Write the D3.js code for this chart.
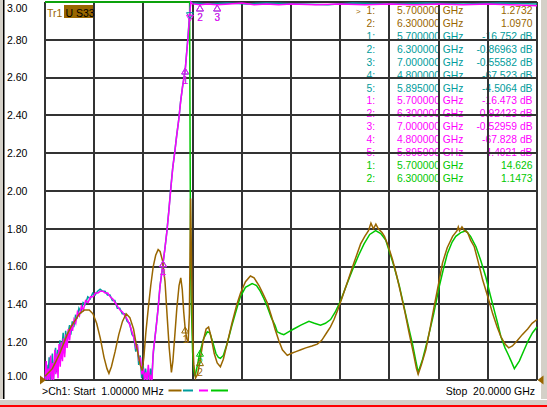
<!DOCTYPE html>
<html>
<head>
<meta charset="utf-8">
<title>VNA trace</title>
<script src="https://cdnjs.cloudflare.com/ajax/libs/d3/7.8.5/d3.min.js"></script>
<style>
  body { margin: 0; background: #fff; }
  svg text { font-family: "Liberation Sans", Arial, sans-serif; font-size: 10.3px; white-space: pre; }
</style>
</head>
<body>
<script>
var width = 547,
    height = 407;

// scale and labels
var yTicks = [1.0, 1.2, 1.4, 1.6, 1.8, 2.0, 2.2, 2.4, 2.6, 2.8, 3.0];
var startGHz = 0.001, stopGHz = 20;
var startLabel = ">Ch1: Start  1.00000 MHz";
var stopLabel = "Stop  20.0000 GHz";

// traces: [frequency GHz, displayed value]
var brown = [[0,1.02],[0.15,1.04],[0.3,1.06],[0.45,1.10],[0.6,1.14],[0.75,1.19],[0.9,1.24],[1.05,1.28],[1.2,1.31],
  [1.4,1.35],[1.6,1.37],[1.8,1.37],[1.95,1.35],[2.1,1.30],[2.25,1.22],[2.4,1.12],[2.52,1.06],[2.6,1.035],[2.7,1.07],
  [2.85,1.15],[3.0,1.24],[3.15,1.31],[3.3,1.35],[3.45,1.33],[3.6,1.27],[3.75,1.16],[3.87,1.08],[3.95,1.05],[4.02,1.12],
  [4.1,1.25],[4.2,1.38],[4.3,1.50],[4.4,1.60],[4.5,1.66],[4.6,1.69],[4.68,1.68],[4.78,1.63],[4.88,1.52],[4.96,1.35],
  [5.05,1.17],[5.14,1.04],[5.2,1.10],[5.28,1.24],[5.36,1.38],[5.45,1.50],[5.52,1.54],[5.58,1.48],[5.64,1.36],[5.70,1.27],
  [5.76,1.22],[5.82,1.20],[5.87,1.35],[5.92,1.96],[5.96,1.60],[6.0,1.25],[6.05,1.08],[6.12,1.01],[6.2,1.03],[6.3,1.097],
  [6.42,1.20],[6.55,1.27],[6.65,1.28],[6.75,1.23],[6.88,1.14],[7.0,1.09],[7.13,1.07],[7.25,1.11],[7.4,1.19],[7.6,1.30],
  [7.8,1.40],[7.95,1.46],[8.15,1.52],[8.35,1.55],[8.5,1.54],[8.7,1.50],[8.85,1.46],[9.03,1.41],[9.2,1.34],[9.35,1.27],
  [9.5,1.21],[9.65,1.16],[9.85,1.13],[10.0,1.14],[10.2,1.15],[10.4,1.16],[10.6,1.17],[10.85,1.18],[11.07,1.19],[11.25,1.21],
  [11.45,1.25],[11.6,1.28],[11.75,1.32],[11.9,1.37],[12.09,1.44],[12.3,1.52],[12.56,1.62],[12.83,1.72],[13.0,1.76],
  [13.15,1.79],[13.25,1.83],[13.35,1.80],[13.45,1.825],[13.55,1.80],[13.7,1.78],[13.8,1.76],[13.95,1.71],[14.12,1.64],
  [14.3,1.55],[14.46,1.46],[14.63,1.36],[14.8,1.25],[14.98,1.14],[15.1,1.06],[15.17,1.03],[15.3,1.08],[15.48,1.16],
  [15.65,1.27],[15.82,1.39],[16.0,1.51],[16.16,1.62],[16.35,1.70],[16.57,1.76],[16.75,1.79],[16.8,1.81],[16.85,1.79],
  [16.95,1.81],[17.05,1.79],[17.18,1.78],[17.3,1.74],[17.45,1.705],[17.6,1.63],[17.79,1.53],[18.0,1.44],[18.2,1.35],
  [18.38,1.28],[18.53,1.23],[18.7,1.19],[18.85,1.17],[19.0,1.18],[19.21,1.21],[19.4,1.24],[19.62,1.27],[19.8,1.30],[20.0,1.32]];

var teal = [[0,1.02],[0.04,0.98],[0.08,1.08],[0.12,1.00],[0.17,1.12],[0.21,0.99],[0.26,1.05],[0.30,1.14],[0.34,1.00],
  [0.39,1.10],[0.43,1.17],[0.48,1.04],[0.52,1.16],[0.56,1.09],[0.61,1.21],[0.65,1.11],[0.70,1.19],[0.74,1.25],[0.79,1.14],
  [0.84,1.26],[0.89,1.19],[0.94,1.25],[1.00,1.29],[1.05,1.24],[1.11,1.31],[1.17,1.28],[1.24,1.34],[1.31,1.33],[1.38,1.38],
  [1.46,1.36],[1.55,1.41],[1.64,1.40],[1.74,1.44],[1.84,1.43],[1.94,1.46],[2.04,1.45],[2.14,1.47],[2.24,1.48],[2.34,1.47],
  [2.44,1.47],[2.54,1.45],[2.64,1.45],[2.74,1.42],[2.84,1.42],[2.94,1.38],[3.04,1.38],[3.14,1.35],[3.24,1.35],[3.34,1.31],
  [3.44,1.30],[3.54,1.24],[3.61,1.23],[3.69,1.15],[3.75,1.19],[3.81,1.08],[3.87,1.13],[3.93,1.01],[3.99,1.08],[4.04,0.98],
  [4.09,1.06],[4.14,0.98],[4.19,1.05],[4.24,0.98],[4.29,1.06],[4.34,1.00],[4.39,1.12],[4.44,1.19],[4.51,1.27],[4.59,1.37],
  [4.67,1.49],[4.74,1.56],[4.80,1.62],[4.87,1.69],[4.95,1.78],[5.03,1.89],[5.11,2.01],[5.19,2.12],[5.27,2.20],[5.35,2.29],
  [5.43,2.37],[5.51,2.47],[5.59,2.55],[5.70,2.64],[5.75,2.72],[5.81,2.81],[5.87,2.92],[5.92,3.02],[6.0,2.995],[6.6,2.99],
  [7.4,2.995],[8.2,2.99],[9.0,2.995],[10.5,2.99],[11.5,2.985],[12.5,2.995],[14.0,2.99],[15.5,2.995],[17.0,2.99],[18.5,2.995],[20.0,2.99]];

var magenta = [[0,1.00],[0.05,1.10],[0.09,0.98],[0.14,1.06],[0.18,0.98],[0.23,1.13],[0.27,1.00],[0.31,1.09],[0.35,0.98],
  [0.40,1.16],[0.44,1.03],[0.49,1.14],[0.53,1.01],[0.57,1.19],[0.62,1.07],[0.66,1.20],[0.71,1.10],[0.75,1.22],[0.80,1.12],
  [0.85,1.24],[0.90,1.17],[0.95,1.27],[1.00,1.21],[1.06,1.29],[1.12,1.26],[1.18,1.32],[1.25,1.30],[1.32,1.36],[1.40,1.34],
  [1.48,1.39],[1.56,1.37],[1.65,1.42],[1.75,1.41],[1.85,1.44],[1.95,1.44],[2.05,1.46],[2.15,1.46],[2.25,1.47],[2.35,1.47],
  [2.45,1.46],[2.55,1.46],[2.65,1.44],[2.75,1.43],[2.85,1.41],[2.95,1.39],[3.05,1.37],[3.15,1.36],[3.25,1.34],[3.35,1.32],
  [3.45,1.29],[3.55,1.25],[3.62,1.22],[3.70,1.17],[3.76,1.18],[3.82,1.10],[3.88,1.12],[3.94,1.03],[4.00,1.06],[4.05,0.98],
  [4.10,1.04],[4.15,0.97],[4.20,1.08],[4.25,0.97],[4.30,1.02],[4.35,0.99],[4.40,1.15],[4.45,1.20],[4.52,1.28],[4.60,1.38],
  [4.68,1.50],[4.75,1.57],[4.80,1.62],[4.88,1.70],[4.96,1.79],[5.04,1.90],[5.12,2.02],[5.20,2.13],[5.28,2.21],[5.36,2.30],
  [5.44,2.38],[5.52,2.48],[5.60,2.56],[5.70,2.64],[5.76,2.73],[5.82,2.82],[5.88,2.93],[5.93,3.02],[6.0,2.99],[6.3,2.985],
  [6.6,2.99],[7.0,2.985],[7.5,2.99],[8.0,2.995],[8.5,2.985],[9.0,2.99],[9.5,2.985],[10.0,2.99],[11.0,2.985],[12.0,2.99],
  [13.0,2.985],[14.0,2.99],[15.0,2.985],[16.0,2.99],[17.0,2.985],[18.0,2.99],[19.0,2.985],[20.0,2.98]];

var green = [[0,3.1],[5.88,3.1],[5.9,2.2],[5.92,1.6],[5.94,1.45],[5.97,1.30],[6.0,1.15],[6.05,1.05],[6.1,1.02],[6.2,1.08],
  [6.3,1.147],[6.45,1.22],[6.6,1.255],[6.7,1.25],[6.82,1.20],[6.95,1.14],[7.05,1.12],[7.13,1.115],[7.25,1.13],[7.4,1.19],
  [7.6,1.29],[7.8,1.38],[7.94,1.44],[8.15,1.49],[8.42,1.51],[8.6,1.50],[8.75,1.47],[8.9,1.43],[9.03,1.39],[9.2,1.33],
  [9.35,1.29],[9.44,1.255],[9.6,1.245],[9.71,1.24],[9.9,1.255],[10.11,1.27],[10.4,1.29],[10.73,1.31],[10.95,1.30],
  [11.2,1.29],[11.4,1.30],[11.61,1.32],[11.8,1.36],[12.02,1.42],[12.25,1.50],[12.49,1.58],[12.75,1.66],[12.97,1.72],
  [13.2,1.77],[13.44,1.79],[13.65,1.775],[13.85,1.74],[14.0,1.68],[14.19,1.60],[14.4,1.50],[14.59,1.39],[14.78,1.28],
  [14.94,1.19],[15.06,1.11],[15.17,1.04],[15.35,1.11],[15.55,1.21],[15.8,1.35],[16.02,1.49],[16.2,1.59],[16.36,1.67],
  [16.55,1.73],[16.7,1.76],[16.9,1.78],[17.11,1.79],[17.3,1.76],[17.52,1.705],[17.72,1.63],[17.92,1.545],[18.1,1.45],
  [18.26,1.37],[18.4,1.30],[18.53,1.23],[18.7,1.17],[18.81,1.14],[18.95,1.10],[19.08,1.06],[19.28,1.10],[19.48,1.16],
  [19.65,1.21],[19.82,1.25],[20.0,1.28]];

// marker tables: [number, frequency, readout]
var brownMarkers = [["1","5.700000","1.2732"],["2","6.300000","1.0970"]];
var tealMarkers = [["1","5.700000","-16.752 dB"],["2","6.300000","-0.86963 dB"],["3","7.000000","-0.55582 dB"],
  ["4","4.800000","-67.523 dB"],["5","5.895000","-4.5064 dB"]];
var magentaMarkers = [["1","5.700000","-16.473 dB"],["2","6.300000","-0.92423 dB"],["3","7.000000","-0.52959 dB"],
  ["4","4.800000","-67.828 dB"],["5","5.895000","-4.4921 dB"]];
var greenMarkers = [["1","5.700000","14.626"],["2","6.300000","1.1473"]];

var cBrown = "#996600", cTeal = "#009c9c", cMagenta = "#ff00ff", cGreen = "#00c800";

var svg = d3.select("body").append("svg")
  .attr("width", width)
  .attr("height", height);

// frame
svg.append("rect").attr("width", width).attr("height", height).attr("fill", "#fff");
svg.append("rect").attr("x", 0).attr("y", 0).attr("width", 3).attr("height", 400).attr("fill", "#d4d0c8");
svg.append("rect").attr("x", 3).attr("y", 0).attr("width", 1.5).attr("height", 399).attr("fill", "#000");
svg.append("rect").attr("x", 541).attr("y", 0).attr("width", 6).attr("height", 400).attr("fill", "#d4d0c8");
svg.append("rect").attr("x", 0).attr("y", 399).attr("width", width).attr("height", 6).attr("fill", "#d4d0c8");
svg.append("rect").attr("x", 0).attr("y", 399).attr("width", width).attr("height", 1).attr("fill", "#fff");
svg.append("rect").attr("x", 0).attr("y", 405).attr("width", width).attr("height", 2).attr("fill", "#ff0000");

var x = d3.scaleLinear().domain([startGHz, stopGHz]).range([45, 537]);
var y = d3.scaleLinear().domain([1, 3]).range([380, 2]).clamp(true);

// marker readouts
var rows = [];
brownMarkers.forEach(function(m){ rows.push({c: cBrown, m: m}); });
tealMarkers.forEach(function(m){ rows.push({c: cTeal, m: m}); });
magentaMarkers.forEach(function(m){ rows.push({c: cMagenta, m: m}); });
greenMarkers.forEach(function(m){ rows.push({c: cGreen, m: m}); });

var table = svg.append("g");
rows.forEach(function(r, i){
  var yy = 13.8 + i * 12.95;
  table.append("text").attr("x", 375).attr("y", yy).attr("text-anchor", "end").attr("fill", r.c).text(r.m[0] + ":");
  table.append("text").attr("x", 397).attr("y", yy).attr("fill", r.c).text(r.m[1] + " GHz");
  table.append("text").attr("x", 532.5).attr("y", yy).attr("text-anchor", "end").attr("fill", r.c).text(r.m[2]);
});
table.append("text").attr("x", 356).attr("y", 13.8).attr("fill", cBrown).style("font-size", "8px").text(">");

// grid
var grid = svg.append("g").attr("stroke", "#333").attr("stroke-width", 2).attr("shape-rendering", "crispEdges");
grid.selectAll(".h").data(yTicks).enter().append("line")
  .attr("x1", 45).attr("x2", 537)
  .attr("y1", function(d){ return y(d); }).attr("y2", function(d){ return y(d); });
grid.selectAll(".v").data(d3.range(11)).enter().append("line")
  .attr("y1", 2).attr("y2", 380)
  .attr("x1", function(i){ return x(startGHz + i * (stopGHz - startGHz) / 10); })
  .attr("x2", function(i){ return x(startGHz + i * (stopGHz - startGHz) / 10); });

// y labels
var yAxis = svg.append("g").attr("transform", "translate(7,0)")
  .call(d3.axisLeft(y).tickValues(yTicks).tickSize(0).tickPadding(0).tickFormat(d3.format(".2f")));
yAxis.select(".domain").remove();
yAxis.selectAll("text")
  .attr("text-anchor", "start")
  .attr("fill", "#000")
  .style("font-family", '"Liberation Sans", Arial, sans-serif')
  .style("font-size", "10.5px")
  .attr("y", function(d){ return d === 3 ? 6.5 : (d === 1 ? -4 : 0); });

// traces
var line = d3.line()
  .x(function(d){ return x(Math.max(d[0], startGHz)); })
  .y(function(d){ return y(d[1]); });

var traces = svg.append("g").attr("fill", "none").attr("stroke-width", 1.5).attr("stroke-linejoin", "miter");
traces.append("path").datum(green).attr("stroke", cGreen).attr("d", line);
traces.append("path").datum(teal).attr("stroke", cTeal).attr("d", line);
traces.append("path").datum(magenta).attr("stroke", cMagenta).attr("d", line);
traces.append("path").datum(brown).attr("stroke", cBrown).attr("d", line);

// marker symbols on traces
function valueAt(series, f){
  var i = d3.bisector(function(d){ return d[0]; }).left(series, f);
  if (i <= 0) return series[0][1];
  if (i >= series.length) return series[series.length - 1][1];
  var a = series[i - 1], b = series[i];
  return a[1] + (b[1] - a[1]) * (f - a[0]) / (b[0] - a[0]);
}

function drawMarkers(series, markers, color){
  var g = svg.append("g");
  markers.forEach(function(m){
    var f = +m[1];
    var v = valueAt(series, f);
    if (v > 3.05) return; // off scale
    var px = x(f);
    var py = Math.min(Math.max(y(v) - 2, 5), 366);
    if (m[0] === "5") {
      // active marker drawn pointing down
      g.append("path")
        .attr("d", "M" + (px - 3.5) + "," + (py + 7) + "L" + (px + 3.5) + "," + (py + 7) + "L" + px + "," + (py + 13) + "Z")
        .attr("fill", "none").attr("stroke", color).attr("stroke-width", 1);
      return;
    }
    g.append("path")
      .attr("d", "M" + px + "," + py + "L" + (px - 3.5) + "," + (py + 6) + "L" + (px + 3.5) + "," + (py + 6) + "Z")
      .attr("fill", "none").attr("stroke", color).attr("stroke-width", 1);
    g.append("text").attr("x", px).attr("y", py + 16).attr("text-anchor", "middle")
      .attr("fill", color).style("font-size", "10px").text(m[0]);
  });
}
drawMarkers(teal, tealMarkers, cTeal);
drawMarkers(magenta, magentaMarkers, cMagenta);
drawMarkers(green, greenMarkers, cGreen);
drawMarkers(brown, brownMarkers, cBrown);

// trace title
svg.append("text").attr("x", 47).attr("y", 16.5).attr("fill", cBrown).style("font-size", "10.5px").text("Tr1");
svg.append("rect").attr("x", 64).attr("y", 5).attr("width", 29).attr("height", 13).attr("fill", cBrown);
svg.append("text").attr("x", 65.5).attr("y", 16.5).attr("fill", "#000").style("font-size", "10.5px").text("U S33");

// reference arrows
svg.append("path").attr("d", "M40,375.5L46,380L40,384.5Z").attr("fill", cBrown);
svg.append("path").attr("d", "M543.5,375.5L537.5,380L543.5,384.5Z").attr("fill", cBrown);

// status line
svg.append("text").attr("x", 42).attr("y", 395).attr("fill", "#000").style("font-size", "10.5px").text(startLabel);
svg.append("text").attr("x", 535).attr("y", 395).attr("text-anchor", "end").attr("fill", "#000").style("font-size", "10.5px").text(stopLabel);

var legend = [[cBrown, 168.5, 181.5], [cTeal, 183, 193], [cMagenta, 199, 208], [cGreen, 211, 228]];
svg.append("g").selectAll("line").data(legend).enter().append("line")
  .attr("x1", function(d){ return d[1]; }).attr("x2", function(d){ return d[2]; })
  .attr("y1", 390.5).attr("y2", 390.5)
  .attr("stroke", function(d){ return d[0]; }).attr("stroke-width", 2);
</script>
</body>
</html>
